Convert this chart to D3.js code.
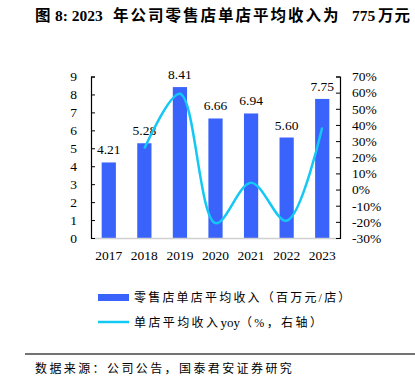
<!DOCTYPE html>
<html>
<head>
<meta charset="utf-8">
<script src="https://cdn.jsdelivr.net/npm/d3@7"></script>
<style>
body { margin: 0; background: #fff; }
svg { display: block; }
text { font-family: "Liberation Serif", "Noto Sans CJK SC", serif; }
</style>
</head>
<body>
<svg width="415" height="384"></svg>
<script>
// Data
let years = ['2017', '2018', '2019', '2020', '2021', '2022', '2023'];
let revenue = [4.21, 5.28, 8.41, 6.66, 6.94, 5.60, 7.75]; // 百万元/店
let yoy = [null, 25.4, 59.3, -20.8, 4.2, -19.3, 38.4]; // %
let leftTicks = [0, 1, 2, 3, 4, 5, 6, 7, 8, 9];
let rightTicks = [-30, -20, -10, 0, 10, 20, 30, 40, 50, 60, 70];

let svg = d3.select('svg');

let x0 = 91, x1 = 340; // plot left / right
let yTop = 76.5, yBot = 238; // plot top / bottom

let x = d3.scaleBand().domain(years).range([x0, x1]).paddingInner(0.6).paddingOuter(0.3);
let yL = d3.scaleLinear().domain([0, 9]).range([yBot, yTop]);
let yR = d3.scaleLinear().domain([-30, 70]).range([yBot, yTop]);

// Title, split so only the Chinese runs get extra spacing
let title = svg.append('text')
	.attr('y', 21)
	.attr('font-size', 15.5).attr('font-weight', 'bold')
	.attr('fill', '#000');
[
	['图', 35, 0],
	['8: 2023', 55, 0],
	['年公司零售店单店平均收入为', 113, 2],
	['775', 352, 0],
	['万元', 378, 1]
].forEach(s => {
	title.append('tspan').attr('x', s[1]).attr('letter-spacing', s[2]).text(s[0]);
});

// Bars
svg.selectAll('rect.bar').data(revenue).enter()
	.append('rect')
	.attr('class', 'bar')
	.attr('x', (d, i) => x(years[i]))
	.attr('width', x.bandwidth())
	.attr('y', d => yL(d))
	.attr('height', d => yBot - yL(d))
	.attr('fill', '#3a63fb');

// Bar labels
svg.selectAll('text.lbl').data(revenue).enter()
	.append('text')
	.attr('class', 'lbl')
	.attr('x', (d, i) => x(years[i]) + x.bandwidth() / 2)
	.attr('y', d => yL(d) - 8)
	.attr('text-anchor', 'middle')
	.attr('font-size', 13.5)
	.text(d => d.toFixed(2));

// Bottom axis line
svg.append('line')
	.attr('x1', x0).attr('x2', x1)
	.attr('y1', yBot + 0.5).attr('y2', yBot + 0.5)
	.attr('stroke', '#d0d0d0').attr('stroke-width', 1.5);

// Left axis
let leftAxis = svg.append('g')
	.attr('transform', 'translate(' + x0 + ',0)')
	.call(d3.axisLeft(yL).tickValues(leftTicks).tickSize(-4).tickPadding(14));
leftAxis.select('.domain').attr('stroke', '#000').attr('stroke-width', 1.2);
leftAxis.selectAll('.tick line').attr('stroke', '#000');
leftAxis.selectAll('text').attr('font-size', 13.5).attr('font-family', '"Liberation Serif", serif').attr('fill', '#000');

// Right axis
let rightAxis = svg.append('g')
	.attr('transform', 'translate(' + x1 + ',0)')
	.call(d3.axisRight(yR).tickValues(rightTicks).tickSize(-4).tickPadding(12).tickFormat(d => d + '%'));
rightAxis.select('.domain').attr('stroke', '#000').attr('stroke-width', 1.2);
rightAxis.selectAll('.tick line').attr('stroke', '#000');
rightAxis.selectAll('text').attr('font-size', 13.5).attr('font-family', '"Liberation Serif", serif').attr('fill', '#000');

// X labels
svg.selectAll('text.xl').data(years).enter()
	.append('text')
	.attr('class', 'xl')
	.attr('x', d => x(d) + x.bandwidth() / 2)
	.attr('y', 260)
	.attr('text-anchor', 'middle')
	.attr('font-size', 13.5)
	.text(d => d);

// YoY line (smoothed)
let pts = yoy.map((v, i) => [x(years[i]) + x.bandwidth() / 2, v]).filter(p => p[1] != null);
let line = d3.line()
	.x(p => p[0])
	.y(p => yR(p[1]))
	.curve(d3.curveCatmullRom.alpha(0.5));
svg.append('path')
	.attr('d', line(pts))
	.attr('fill', 'none')
	.attr('stroke', '#14c8f5')
	.attr('stroke-width', 2.5);

// Legend
svg.append('rect')
	.attr('x', 98).attr('y', 294).attr('width', 31).attr('height', 7)
	.attr('fill', '#3a63fb');
svg.append('text')
	.attr('x', 134).attr('y', 302)
	.attr('font-size', 12).attr('font-family', '"Noto Sans CJK SC", sans-serif')
	.attr('letter-spacing', 2.2)
	.text('零售店单店平均收入（百万元/店）');
svg.append('line')
	.attr('x1', 98).attr('x2', 129).attr('y1', 322).attr('y2', 322)
	.attr('stroke', '#14c8f5').attr('stroke-width', 2.5);
let lg2 = svg.append('text')
	.attr('x', 134).attr('y', 327)
	.attr('font-size', 12).attr('font-family', '"Noto Sans CJK SC", sans-serif');
lg2.append('tspan').attr('letter-spacing', 2.4).text('单店平均收入');
lg2.append('tspan').attr('font-family', '"Liberation Serif", serif').attr('font-size', 13).text('yoy');
lg2.append('tspan').attr('letter-spacing', 2.4).text('（%，右轴）');

// Separator and source
svg.append('line')
	.attr('x1', 25).attr('x2', 415).attr('y1', 354).attr('y2', 354)
	.attr('stroke', '#444').attr('stroke-width', 1.5);
svg.append('text')
	.attr('x', 35).attr('y', 373)
	.attr('font-size', 12).attr('font-family', '"Noto Sans CJK SC", sans-serif')
	.attr('letter-spacing', 2.4)
	.text('数据来源：公司公告，国泰君安证券研究');
</script>
</body>
</html>
